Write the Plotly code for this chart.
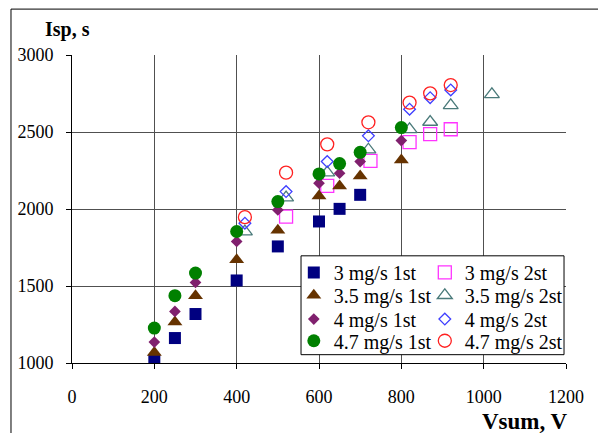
import plotly.graph_objects as go

# ---- data ----
x_1st = [200, 250, 300, 400, 500, 600, 650, 700, 800]
isp_3_1st = [1015, 1162, 1318, 1536, 1757, 1919, 2001, 2092]
isp_35_1st = [1068, 1266, 1436, 1670, 1862, 2085, 2150, 2215, 2318]
isp_4_1st = [1136, 1335, 1523, 1789, 1994, 2168, 2232, 2308, 2444]
isp_47_1st = [1227, 1437, 1584, 1854, 2048, 2228, 2295, 2368, 2529]

x_3_2st = [520, 620, 725, 820, 870, 920]
isp_3_2st = [1951, 2150, 2313, 2434, 2486, 2518]
x_35_2st = [420, 520, 620, 720, 820, 870, 920, 1020]
isp_35_2st = [1853, 2074, 2236, 2385, 2517, 2565, 2673, 2744]
x_4_2st = [420, 520, 620, 720, 820, 870, 920]
isp_4_2st = [1908, 2113, 2308, 2475, 2648, 2723, 2773]
x_47_2st = [420, 520, 620, 720, 820, 870, 920]
isp_47_2st = [1947, 2236, 2420, 2563, 2691, 2751, 2805]

x_ticks = [0, 200, 400, 600, 800, 1000, 1200]
y_ticks = [1000, 1500, 2000, 2500, 3000]

FONT = "Liberation Serif"

fig = go.Figure()

def add(x, y, name, symbol, color, size, legend, filled=True):
    if filled:
        marker = dict(symbol=symbol, color=color, size=size, line=dict(width=0))
        lw = 86
    else:
        marker = dict(symbol=symbol + "-open", color=color, size=size, line=dict(width=1.3, color=color))
        lw = 104
    fig.add_trace(go.Scatter(x=x, y=y, mode="markers", name=name, marker=marker,
                             legend=legend, legendwidth=lw, hoverinfo="x+y+name"))

add(x_1st[:len(isp_3_1st)], isp_3_1st, "3 mg/s 1st", "square", "#000080", 12, "legend")
add(x_3_2st, isp_3_2st, "3 mg/s 2st", "square", "#ff33ff", 13, "legend", False)
add(x_1st, isp_35_1st, "3.5 mg/s 1st", "triangle-up", "#663300", 13, "legend2")
add(x_35_2st, isp_35_2st, "3.5 mg/s 2st", "triangle-up", "#4a7a7a", 13, "legend2", False)
add(x_1st, isp_4_1st, "4 mg/s 1st", "diamond", "#80206e", 9, "legend3")
add(x_4_2st, isp_4_2st, "4 mg/s 2st", "diamond", "#3f3fff", 9, "legend3", False)
add(x_1st, isp_47_1st, "4.7 mg/s 1st", "circle", "#008000", 13, "legend4")
add(x_47_2st, isp_47_2st, "4.7 mg/s 2st", "circle", "#ff2020", 13, "legend4", False)

leg_common = dict(orientation="h", xanchor="left", yanchor="middle",
                  x=0.449, bgcolor="rgba(0,0,0,0)", borderwidth=0,
                  entrywidthmode="pixels",
                  font=dict(family=FONT, size=20, color="black"))
row_y = [0.294, 0.220, 0.1427, 0.0723]

fig.update_layout(
    width=598, height=433,
    margin=dict(l=72, r=32, t=55, b=70, autoexpand=False),
    paper_bgcolor="white", plot_bgcolor="white",
    showlegend=True,
    legend=dict(leg_common, y=row_y[0]),
    legend2=dict(leg_common, y=row_y[1]),
    legend3=dict(leg_common, y=row_y[2]),
    legend4=dict(leg_common, y=row_y[3]),
    font=dict(family=FONT, size=18, color="black"),
    xaxis=dict(range=[0, 1200], tickvals=x_ticks, ticktext=[str(v) for v in x_ticks],
               showgrid=True, gridcolor="#505050", gridwidth=1,
               showline=True, linecolor="black", linewidth=1,
               ticks="outside", ticklen=5, tickcolor="black",
               ticklabelstandoff=12, zeroline=False,
               tickfont=dict(family=FONT, size=18, color="black")),
    yaxis=dict(range=[1000, 3000], tickvals=y_ticks, ticktext=[str(v) for v in y_ticks],
               showgrid=True, gridcolor="#505050", gridwidth=1,
               showline=True, linecolor="black", linewidth=1,
               ticks="outside", ticklen=5, tickcolor="black",
               ticklabelstandoff=9, zeroline=False,
               tickfont=dict(family=FONT, size=18, color="black")),
    shapes=[
        # outer chart border (extends beyond the page at right/bottom)
        dict(type="rect", xref="paper", yref="paper", x0=-0.1235, y0=-0.4, x1=1.2, y1=1.149,
             line=dict(color="black", width=1), fillcolor="rgba(0,0,0,0)", layer="below"),
        # legend box
        dict(type="rect", xref="paper", yref="paper", x0=0.4636, y0=0.027, x1=0.996, y1=0.348,
             line=dict(color="black", width=1), fillcolor="white", layer="above"),
    ],
    annotations=[
        dict(text="<b>Isp, s</b>", xref="paper", yref="paper", x=-0.01, y=1.084,
             xanchor="center", yanchor="middle", showarrow=False,
             font=dict(family=FONT, size=20, color="black")),
        dict(text="<b>Vsum, V</b>", xref="paper", yref="paper", x=0.918, y=-0.19,
             xanchor="center", yanchor="middle", showarrow=False,
             font=dict(family=FONT, size=23, color="black")),
    ],
)

fig.write_html("out.html")
